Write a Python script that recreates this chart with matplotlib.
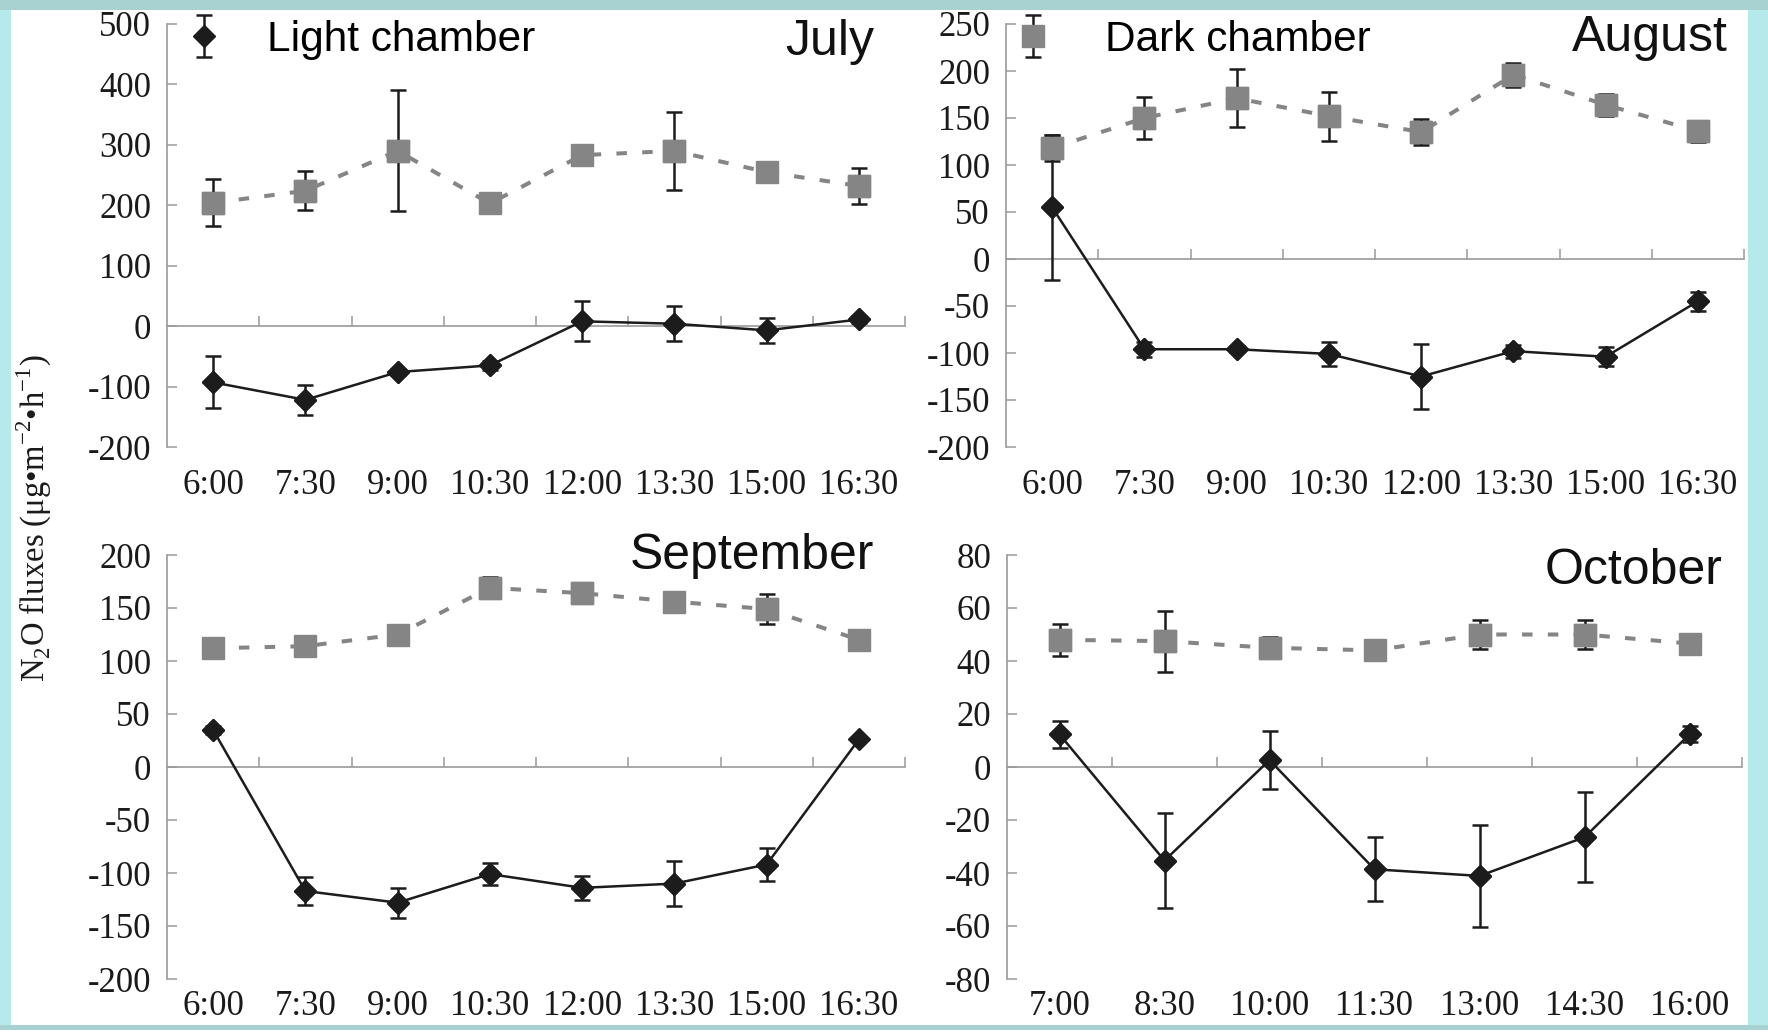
import numpy as np
import matplotlib
matplotlib.use("Agg")
import matplotlib.pyplot as plt
from matplotlib.patches import Rectangle

plt.rcParams["font.family"] = ["Liberation Serif", "DejaVu Serif"]
plt.rcParams["mathtext.fontset"] = "custom"
plt.rcParams["mathtext.rm"] = "Liberation Serif"
plt.rcParams["axes.unicode_minus"] = False

# ---- data ----
times_jul_sep = ["6:00", "7:30", "9:00", "10:30", "12:00", "13:30", "15:00", "16:30"]
times_oct = ["7:00", "8:30", "10:00", "11:30", "13:00", "14:30", "16:00"]

jul_dark = [204, 224, 290, 203, 283, 290, 255, 232]
jul_dark_err = [39, 32, 100, 0, 0, 65, 0, 30]
jul_light = [-93, -122, -76, -65, 8, 4, -7, 11]
jul_light_err = [43, 25, 5, 7, 33, 29, 21, 6]

aug_dark = [118, 150, 171, 152, 135, 196, 164, 136]
aug_dark_err = [14, 22, 31, 26, 14, 13, 12, 11]
aug_light = [55, -96, -96, -101, -125, -98, -104, -45]
aug_light_err = [77, 8, 3, 13, 35, 7, 10, 10]

sep_dark = [112, 114, 125, 169, 164, 156, 149, 120]
sep_dark_err = [0, 0, 0, 10, 9, 0, 14, 0]
sep_light = [35, -117, -128, -101, -114, -110, -92, 26]
sep_light_err = [4, 13, 14, 10, 11, 21, 16, 0]

oct_dark = [48, 47.5, 45, 44, 50, 50, 46.6]
oct_dark_err = [6, 11.5, 4, 0, 5.6, 5.5, 0]
oct_light = [12.3, -35.3, 2.6, -38.6, -41.1, -26.5, 12.3]
oct_light_err = [5, 18, 11, 12, 19.4, 17, 3]

months = ["July", "August", "September", "October"]
yticks = [np.arange(-200, 501, 100), np.arange(-200, 251, 50),
          np.arange(-200, 201, 50), np.arange(-80, 81, 20)]

GRAY = "#858585"
BLACK = "#1c1c1c"
AXC = "#9a9a9a"
EB = dict(elinewidth=1.8, capsize=6, capthick=1.8, ecolor=BLACK)

W, H = 1768, 1030
fig = plt.figure(figsize=(W / 100, H / 100), dpi=100, facecolor="white")

# axes rectangles in pixels: left, top, right, bottom
boxes = [(167, 24, 905, 447), (1006, 24, 1744, 447),
         (167, 555, 905, 979), (1007, 555, 1742, 979)]
title_pos = [(0.959, 0.958), (0.978, 0.966), (0.958, 0.997), (0.974, 0.962)]
xlabel_pad = [16, 16, 8, 8]

panels = [
    (times_jul_sep, jul_dark, jul_dark_err, jul_light, jul_light_err),
    (times_jul_sep, aug_dark, aug_dark_err, aug_light, aug_light_err),
    (times_jul_sep, sep_dark, sep_dark_err, sep_light, sep_light_err),
    (times_oct, oct_dark, oct_dark_err, oct_light, oct_light_err),
]

axes = []
handles = []
for i, (cats, dk, dk_e, lt, lt_e) in enumerate(panels):
    l, t, r, b = boxes[i]
    ax = fig.add_axes([l / W, 1 - b / H, (r - l) / W, (b - t) / H])
    axes.append(ax)
    n = len(cats)
    x = np.arange(n)
    dk, dk_e, lt, lt_e = map(np.asarray, (dk, dk_e, lt, lt_e))

    # dark chamber: dashed gray line, gray squares
    ax.plot(x, dk, color=GRAY, lw=2.9, ls=(0, (2.6, 3.8)), zorder=2)
    ax.plot(x, dk, ls="none", marker="s", ms=16, color=GRAY, zorder=3)
    m = dk_e > 0
    h_dk = ax.errorbar(x[m], dk[m], yerr=dk_e[m], fmt="s", ls="none", ms=16,
                       color=GRAY, zorder=4, **EB)

    # light chamber: solid black line, black diamonds
    ax.plot(x, lt, color=BLACK, lw=1.8, zorder=2)
    m = lt_e > 0
    h_lt = ax.errorbar(x[m], lt[m], yerr=lt_e[m], fmt="D", ls="none", ms=11.5,
                       color=BLACK, zorder=3, **EB)
    ax.plot(x, lt, ls="none", marker="D", ms=11.5, color=BLACK, zorder=4)
    handles.append((h_lt, h_dk))

    yt = yticks[i]
    ax.set_ylim(yt[0], yt[-1])
    ax.set_yticks(yt)
    ax.set_xlim(-0.5, n - 0.5)
    ax.set_xticks(x)
    ax.set_xticklabels(cats)
    for s in ("top", "right", "bottom"):
        ax.spines[s].set_visible(False)
    ax.spines["left"].set_color(AXC)
    ax.spines["left"].set_linewidth(1.2)
    ax.tick_params(axis="y", direction="in", length=7, width=1.1, color=AXC,
                   pad=11.5, labelsize=25, labelcolor="#1a1a1a")
    ax.tick_params(axis="x", length=0, pad=xlabel_pad[i], labelsize=25,
                   labelcolor="#1a1a1a")

    # zero line with category-boundary ticks
    sec = ax.secondary_xaxis(0, transform=ax.transData)
    sec.set_xticks(np.arange(n) + 0.5)
    sec.tick_params(direction="in", length=7, width=1.1, color=AXC, labelbottom=False)
    sec.spines["bottom"].set_color(AXC)
    sec.spines["bottom"].set_linewidth(1.2)

    tx, ty = title_pos[i]
    ax.text(tx, ty, months[i], transform=ax.transAxes, ha="right", va="center",
            fontsize=36, family="Liberation Sans", color="#111111")

# legends
leg_kw = dict(loc="center left", frameon=False, borderpad=0, borderaxespad=0,
              handlelength=0.9, prop={"family": "Liberation Sans", "size": 30.5})
axes[0].legend([handles[0][0]], ["Light chamber"], bbox_to_anchor=(0.024, 0.963),
               handletextpad=1.05, **leg_kw)
axes[1].legend([handles[1][1]], ["Dark chamber"], bbox_to_anchor=(0.011, 0.963),
               handletextpad=1.25, **leg_kw)

fig.text(34 / W, 1 - 518 / H,
         r"N$_\mathregular{2}$O fluxes (μg•m$^\mathregular{-2}$•h$^\mathregular{-1}$)",
         rotation=90, ha="center", va="center", fontsize=23.5, color="#1a1a1a")

# teal frame round the white sheet
frame = [((0, 0, 11, H), "#b6e9e9"), ((1748, 0, W - 1748, H), "#b6e9e9"),
         ((0, 0, W, 10), "#a8d1d1"), ((0, 1025, W, H - 1025), "#a8d1d1")]
for (x0, y0, w, h), c in frame:
    fig.add_artist(Rectangle((x0 / W, 1 - (y0 + h) / H), w / W, h / H,
                             transform=fig.transFigure, facecolor=c,
                             edgecolor="none", zorder=100))

fig.savefig("out.png", dpi=100)
